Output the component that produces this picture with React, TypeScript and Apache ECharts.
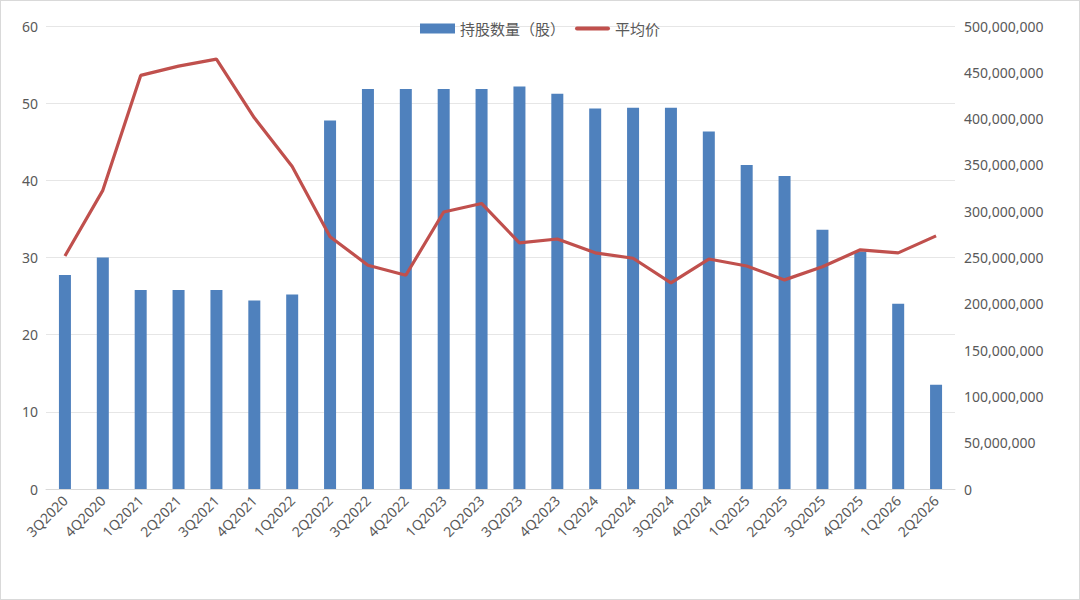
import { useEffect, useRef } from "react";
import * as echarts from "echarts";

const categories = [
  "3Q2020", "4Q2020", "1Q2021", "2Q2021", "3Q2021", "4Q2021", "1Q2022", "2Q2022",
  "3Q2022", "4Q2022", "1Q2023", "2Q2023", "3Q2023", "4Q2023", "1Q2024", "2Q2024",
  "3Q2024", "4Q2024", "1Q2025", "2Q2025", "3Q2025", "4Q2025", "1Q2026", "2Q2026"
];

// 持股数量（股）
const shares = [
  231000000, 250000000, 215000000, 215000000, 215000000, 203500000, 210000000, 398000000,
  432000000, 432000000, 432000000, 432000000, 434800000, 426800000, 411000000, 411700000,
  411700000, 386000000, 350000000, 338000000, 280000000, 256400000, 200000000, 112700000
];

// 平均价
const avgPrice = [
  30.2, 38.7, 53.6, 54.8, 55.7, 48.1, 41.8, 32.7,
  29.0, 27.7, 35.9, 37.0, 31.9, 32.4, 30.6, 29.9,
  26.7, 29.8, 28.9, 27.1, 28.8, 31.0, 30.6, 32.8
];

const leftTicks = { min: 0, max: 60, interval: 10 };
const rightTicks = { min: 0, max: 500000000, interval: 50000000 };

const labelColor = "#595959";
const font = "'Noto Sans', 'Noto Sans CJK SC', sans-serif";

export default function App() {
  const chartRef = useRef<HTMLDivElement>(null);

  useEffect(() => {
    document.body.style.margin = "0";
    if (!chartRef.current) return;
    const chart = echarts.init(chartRef.current, null, { renderer: "svg" });

    chart.setOption({
      animation: false,
      textStyle: { fontFamily: font },
      legend: {
        top: 15,
        left: "center",
        itemWidth: 35,
        itemHeight: 10,
        itemGap: 10,
        textStyle: { color: labelColor, fontSize: 15, fontFamily: "'Noto Sans CJK SC', sans-serif" },
        data: [
          { name: "持股数量（股）", icon: "rect" },
          { name: "平均价", icon: "path://M2,0 h31 a2,2 0 0 1 0,4 h-31 a2,2 0 0 1 0,-4 Z" }
        ]
      },
      grid: { left: 45, right: 124, top: 25, bottom: 110, containLabel: false },
      xAxis: {
        type: "category",
        data: categories,
        axisLine: { lineStyle: { color: "#d9d9d9" } },
        axisTick: { show: false },
        axisLabel: { color: labelColor, fontSize: 14, rotate: 45, interval: 0, margin: 9 }
      },
      yAxis: [
        {
          type: "value",
          ...leftTicks,
          axisLine: { show: false },
          axisTick: { show: false },
          axisLabel: { color: labelColor, fontSize: 14, margin: 8 },
          splitLine: { lineStyle: { color: "#e6e6e6" } }
        },
        {
          type: "value",
          ...rightTicks,
          position: "right",
          axisLine: { show: false },
          axisTick: { show: false },
          splitLine: { show: false },
          axisLabel: {
            color: labelColor,
            fontSize: 14,
            margin: 9,
            formatter: (v: number) => v.toLocaleString("en-US")
          }
        }
      ],
      series: [
        {
          name: "持股数量（股）",
          type: "bar",
          yAxisIndex: 1,
          data: shares,
          barWidth: 12,
          itemStyle: { color: "#4F81BD" }
        },
        {
          name: "平均价",
          type: "line",
          yAxisIndex: 0,
          data: avgPrice,
          symbol: "none",
          lineStyle: { color: "#C0504D", width: 3.2 },
          itemStyle: { color: "#C0504D" }
        }
      ]
    });

    return () => {
      chart.dispose();
    };
  }, []);

  return (
    <div
      ref={chartRef}
      style={{ width: 1080, height: 600, boxSizing: "border-box", border: "1px solid #d9d9d9" }}
    />
  );
}
